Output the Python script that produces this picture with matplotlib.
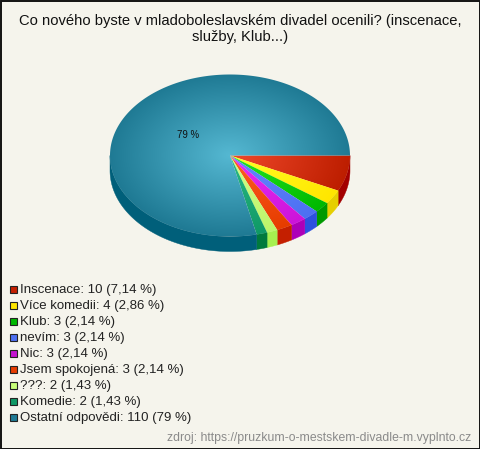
import numpy as np
import matplotlib
matplotlib.use('Agg')
from matplotlib import pyplot as plt
from matplotlib.colors import LinearSegmentedColormap
from matplotlib.patches import Polygon, Rectangle

plt.rcParams['font.family'] = ['Liberation Sans', 'DejaVu Sans']

title = 'Co nového byste v mladoboleslavském divadel ocenili? (inscenace,\nslužby, Klub...)'
source = 'zdroj: https://pruzkum-o-mestskem-divadle-m.vyplnto.cz'
labels = ['Inscenace', 'Více komedii', 'Klub', 'nevím', 'Nic', 'Jsem spokojená', '???', 'Komedie', 'Ostatní odpovědi']
values = [10, 4, 3, 3, 3, 3, 2, 2, 110]
percents = ['7,14 %', '2,86 %', '2,14 %', '2,14 %', '2,14 %', '2,14 %', '1,43 %', '1,43 %', '79 %']

inner = ['#f0492b', '#ffff24', '#22e622', '#6288ff', '#e82ef5', '#ff5e22', '#d2ff8a', '#2cba84', '#55b8d2']
outer = ['#bd1e00', '#ffe600', '#00b800', '#4d70f2', '#cc14d9', '#e63c00', '#bdf56a', '#0f9966', '#1f7a94']
side = ['#a30000', '#e6cf00', '#009900', '#2d50e0', '#ad00b8', '#c41f00', '#a6f050', '#007a3d', '#005f7a']
legend_col = ['#c41f00', '#ffe600', '#00b800', '#4d70f2', '#c414d0', '#e63c00', '#c8ff78', '#0f9966', '#1f7a94']

cx, cy, rx, ry, depth = 230, 155.5, 120, 81, 15

fig = plt.figure(figsize=(4.8, 4.49), dpi=100, facecolor='#f5f4ec')
ax = fig.add_axes([0, 0, 1, 1])
ax.set_xlim(0, 480)
ax.set_ylim(449, 0)
ax.axis('off')

# angles go clockwise from 3 o'clock, image y points down
edges = np.concatenate([[0], np.cumsum(values)]) / sum(values) * 2 * np.pi

# radial gradient grid
gx, gy = np.meshgrid(np.linspace(cx - rx, cx + rx, 480), np.linspace(cy - ry, cy + ry, 324))
rr = np.clip(np.hypot((gx - cx) / rx, (gy - cy) / ry), 0, 1)

for i in range(len(values)):
    a0, a1 = edges[i], edges[i + 1]

    # side wall, only the front half of the ellipse shows
    b0, b1 = max(a0, 0), min(a1, np.pi)
    if b1 > b0:
        t = np.linspace(b0, b1, 120)
        top = np.c_[cx + rx * np.cos(t), cy + ry * np.sin(t)]
        low = top[::-1] + [0, depth]
        ax.add_patch(Polygon(np.r_[top, low], fc=side[i], ec=side[i], lw=0.3, zorder=2))

    t = np.linspace(a0, a1, 300)
    pts = np.r_[[[cx, cy]], np.c_[cx + rx * np.cos(t), cy + ry * np.sin(t)]]
    patch = Polygon(pts, fc='none', ec='none', zorder=3)
    ax.add_patch(patch)
    cmap = LinearSegmentedColormap.from_list('s%d' % i, [inner[i], outer[i]])
    im = ax.imshow(rr, cmap=cmap, vmin=0, vmax=1, extent=(cx - rx, cx + rx, cy + ry, cy - ry),
                   zorder=3, aspect='auto', interpolation='bilinear')
    im.set_clip_path(patch)

ax.set_xlim(0, 480)
ax.set_ylim(449, 0)

ax.text(240, 29, title, ha='center', va='center', fontsize=10.65, color='#111111', linespacing=1.25)
ax.text(188.5, 135, '%s' % percents[-1], ha='center', va='center', fontsize=6.9, color='#111111', zorder=5)

for i, lab in enumerate(labels):
    y = 289.5 + i * 16
    ax.add_patch(Rectangle((10, y - 3.5), 6.5, 7, fc=legend_col[i], ec='#222222', lw=0.8, zorder=4))
    ax.text(20, y + 0.8, '%s: %d (%s)' % (lab, values[i], percents[i]), ha='left', va='center',
            fontsize=9.5, color='#222222')

ax.text(471, 438, source, ha='right', va='center', fontsize=8.85, color='#8a8a8a')

# outer frame
ax.add_patch(Rectangle((0.5, 0.5), 479, 448, fc='none', ec='#111111', lw=1.4, zorder=6))

fig.savefig('out.png', dpi=100, facecolor=fig.get_facecolor())
